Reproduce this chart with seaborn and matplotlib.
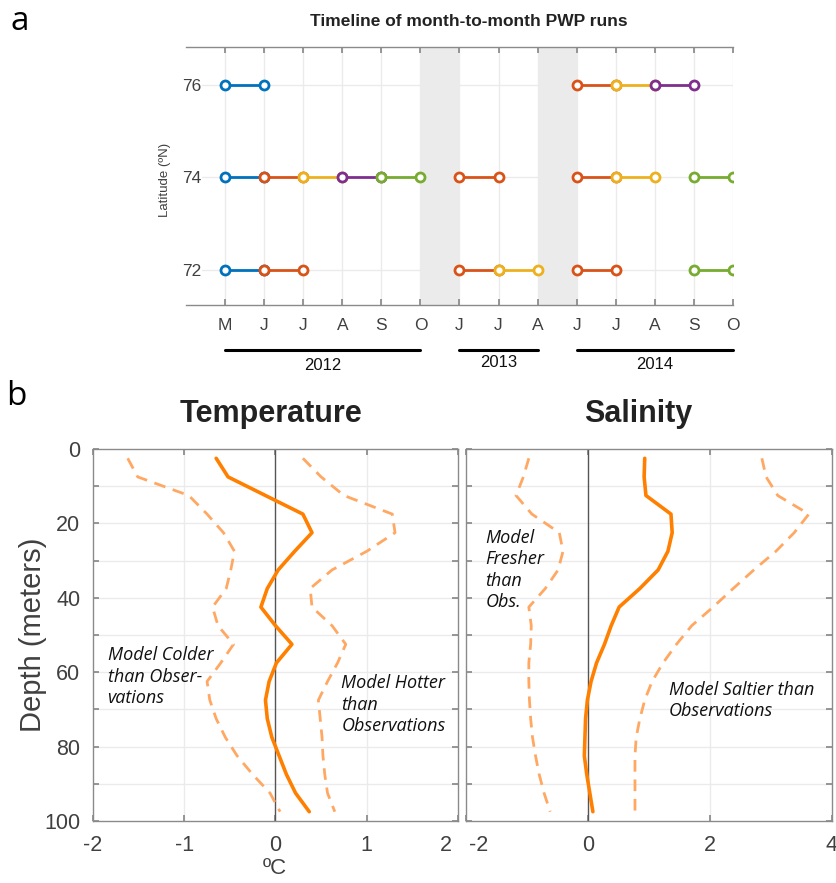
import numpy as np
import pandas as pd
import matplotlib
matplotlib.use("Agg")
import matplotlib.pyplot as plt
import seaborn as sns
from matplotlib.transforms import blended_transform_factory, ScaledTranslation

sns.set_theme(style="white")
plt.rcParams['font.family'] = ['Liberation Sans', 'DejaVu Sans']

# ---------------- panel a data ----------------
month_labels = ['M', 'J', 'J', 'A', 'S', 'O', 'J', 'J', 'A', 'J', 'J', 'A', 'S', 'O']
month_pos = list(range(1, 15))
lat_ticks = [72, 74, 76]
seg_lat = [76, 76, 76, 76,
           74, 74, 74, 74, 74, 74, 74, 74, 74,
           72, 72, 72, 72, 72, 72]
seg_start = [1, 10, 11, 12,
             1, 2, 3, 4, 5, 7, 10, 11, 13,
             1, 2, 7, 8, 10, 13]
seg_end = [2, 11, 12, 13,
           2, 3, 4, 5, 6, 8, 11, 12, 14,
           2, 3, 8, 9, 11, 14]
seg_color = ['blue', 'orange', 'yellow', 'purple',
             'blue', 'orange', 'yellow', 'purple', 'green', 'orange', 'orange', 'yellow', 'green',
             'blue', 'orange', 'orange', 'yellow', 'orange', 'green']
gap_start = [6, 9]
gap_end = [7, 10]
year_labels = ['2012', '2013', '2014']
year_start = [1, 7, 10]
year_end = [6, 9, 14]

# ---------------- panel b data ----------------
depth = [2.5, 7.5, 12.5, 17.5, 22.5, 27.5, 32.5, 37.5, 42.5, 47.5,
         52.5, 57.5, 62.5, 67.5, 72.5, 77.5, 82.5, 87.5, 92.5, 97.5]
temp_mean = [-0.65, -0.52, -0.11, 0.30, 0.40, 0.21, 0.03, -0.09, -0.16, 0.00,
             0.18, 0.01, -0.07, -0.11, -0.09, -0.04, 0.04, 0.12, 0.22, 0.37]
temp_low = [-1.62, -1.51, -0.95, -0.75, -0.57, -0.45, -0.49, -0.54, -0.69, -0.63,
            -0.46, -0.60, -0.75, -0.72, -0.65, -0.55, -0.42, -0.25, -0.06, 0.05]
temp_high = [0.30, 0.50, 0.75, 1.28, 1.31, 1.00, 0.62, 0.38, 0.40, 0.62,
             0.77, 0.68, 0.57, 0.47, 0.49, 0.51, 0.52, 0.54, 0.57, 0.65]
sal_mean = [0.93, 0.92, 0.95, 1.36, 1.38, 1.31, 1.15, 0.85, 0.51, 0.38,
            0.27, 0.14, 0.05, -0.01, -0.04, -0.05, -0.06, -0.02, 0.03, 0.08]
sal_low = [-0.97, -1.06, -1.18, -0.92, -0.47, -0.41, -0.49, -0.70, -0.97, -0.93,
           -0.94, -0.97, -0.97, -0.96, -0.94, -0.91, -0.86, -0.80, -0.72, -0.62]
sal_high = [2.85, 2.92, 3.11, 3.62, 3.38, 3.08, 2.72, 2.38, 2.05, 1.70,
            1.45, 1.23, 1.05, 0.93, 0.85, 0.79, 0.77, 0.77, 0.77, 0.77]

palette = {'blue': '#0072BD', 'orange': '#D95319', 'yellow': '#EDB120',
           'purple': '#7E2F8E', 'green': '#77AC30'}
SOLID = '#FF8000'
DASH = '#FFA863'
TXT = '#404040'
SPINE = '#8a8a8a'
GRID = '#ebebeb'

W, H = 837, 883
fig = plt.figure(figsize=(W / 100, H / 100), dpi=100)


def fx(px):
    return px / W


def fy(py):
    return 1 - py / H


# ---------------- panel a ----------------
axa = fig.add_axes([fx(186), fy(305), fx(733) - fx(186), fy(47) - fy(305)])
axa.set_xlim(0, 14)
axa.set_ylim(71.24, 76.82)
for s, e in zip(gap_start, gap_end):
    axa.axvspan(s, e, color='#ebebeb', zorder=0, lw=0)
for m in month_pos:
    axa.axvline(m, color=GRID, lw=1, zorder=0.5)
for la in lat_ticks:
    axa.axhline(la, xmin=0.03, color=GRID, lw=1, zorder=0.5)

for la, s, e, c in zip(seg_lat, seg_start, seg_end, seg_color):
    seg = pd.DataFrame({'month': [s, e], 'lat': [la, la]})
    sns.lineplot(data=seg, x='month', y='lat', ax=axa, color=palette[c], lw=2,
                 marker='o', markersize=6.5, markerfacecolor='white',
                 markeredgecolor=palette[c], markeredgewidth=2, zorder=3)

axa.set_xticks(month_pos)
axa.set_xticklabels(month_labels)
axa.set_yticks(lat_ticks)
axa.set_yticklabels([str(v) for v in lat_ticks])
axa.tick_params(axis='x', direction='in', top=True, bottom=True, length=4,
                color=SPINE, labelsize=12.5, labelcolor=TXT, pad=9)
axa.tick_params(axis='y', length=0, labelsize=12.5, labelcolor=TXT, pad=-11)
axa.set_xlabel('')
axa.set_ylabel('')
for side in ['left', 'right']:
    axa.spines[side].set_visible(False)
for side in ['top', 'bottom']:
    axa.spines[side].set_color(SPINE)
    axa.spines[side].set_linewidth(1)

trans = blended_transform_factory(axa.transData, axa.transAxes)
year_y = [-0.233, -0.222, -0.229]
for lab, s, e, yy in zip(year_labels, year_start, year_end, year_y):
    axa.plot([s, e], [-0.176, -0.176], transform=trans, color='black', lw=2.2,
             clip_on=False)
    axa.text((s + e) / 2, yy, lab, transform=trans, ha='center', va='center',
             fontsize=12, color='#111111')

fig.text(fx(469), fy(22), 'Timeline of month-to-month PWP runs', ha='center',
         va='center', fontsize=12.5, fontweight='bold', color='#222222')
fig.text(fx(165), fy(180), 'Latitude (\u00baN)', rotation=90, ha='center',
         va='center', fontsize=9.5, color=TXT)
fig.text(fx(20), fy(22), 'a', ha='center', va='center', fontsize=24,
         color='black', family=['Open Sans', 'DejaVu Sans'])
fig.text(fx(16), fy(397), 'b', ha='center', va='center', fontsize=24,
         color='black', family=['Open Sans', 'DejaVu Sans'])

# ---------------- panel b ----------------
axt = fig.add_axes([fx(93), fy(821), fx(458) - fx(93), fy(449) - fy(821)])
axs = fig.add_axes([fx(466), fy(821), fx(832) - fx(466), fy(449) - fy(821)])

prof_t = pd.DataFrame({'depth': depth, 'mean': temp_mean, 'low': temp_low, 'high': temp_high})
prof_s = pd.DataFrame({'depth': depth, 'mean': sal_mean, 'low': sal_low, 'high': sal_high})

for ax, prof, xlim, xt, xgrid in [
        (axt, prof_t, (-2, 2), [-2, -1, 0, 1, 2], [-1, 1]),
        (axs, prof_s, (-2, 4), [-2, 0, 2, 4], [2])]:
    for g in xgrid:
        ax.axvline(g, color=GRID, lw=1, zorder=0.5)
    for d in range(10, 100, 10):
        ax.axhline(d, color=GRID, lw=1, zorder=0.5)
    ax.axvline(0, color='#555555', lw=1, zorder=1)
    for col in ['low', 'high']:
        sns.lineplot(data=prof, x=col, y='depth', orient='y', sort=False, ax=ax,
                     color=DASH, lw=2, linestyle=(0, (4.2, 2.8)), zorder=2)
    sns.lineplot(data=prof, x='mean', y='depth', orient='y', sort=False, ax=ax,
                 color=SOLID, lw=2.6, zorder=3)
    ax.set_xlim(*xlim)
    ax.set_ylim(100, 0)
    ax.set_xticks(xt)
    ax.set_xticklabels([f'{v}' for v in xt])
    ax.set_yticks(list(range(0, 101, 10)))
    ax.set_xlabel('')
    ax.set_ylabel('')
    ax.tick_params(direction='in', top=True, bottom=True, left=True, right=True,
                   length=4.5, color=SPINE, labelsize=15.5, labelcolor=TXT)
    ax.tick_params(axis='x', pad=10)
    ax.tick_params(axis='y', pad=9)
    for sp in ax.spines.values():
        sp.set_color(SPINE)
        sp.set_linewidth(1)

axt.set_yticklabels([str(v) if v % 20 == 0 else '' for v in range(0, 101, 10)])
axs.set_yticklabels([''] * 11)

# nudge the adjoining edge labels apart, as in the original
lab_t = axt.get_xticklabels()[-1]
lab_t.set_transform(lab_t.get_transform() + ScaledTranslation(-0.12, 0, fig.dpi_scale_trans))
lab_s = axs.get_xticklabels()[0]
lab_s.set_transform(lab_s.get_transform() + ScaledTranslation(0.13, 0, fig.dpi_scale_trans))

fig.text(fx(271), fy(414), 'Temperature', ha='center', va='center',
         fontsize=22, fontweight='bold', color='#222222')
fig.text(fx(638), fy(414), 'Salinity', ha='center', va='center',
         fontsize=22, fontweight='bold', color='#222222')
fig.text(fx(33), fy(635), 'Depth (meters)', rotation=90, ha='center', va='center',
         fontsize=21, color=TXT)
fig.text(fx(275), fy(868), '\u00baC', ha='center', va='center', fontsize=16, color=TXT)

ann = dict(fontsize=13, style='italic', color='#111111', va='top', ha='left',
           linespacing=1.25, family=['Open Sans', 'DejaVu Sans'])
axt.text(-1.84, 53.0, 'Model Colder\nthan Obser-\nvations', **ann)
axt.text(0.72, 60.5, 'Model Hotter\nthan\nObservations', **ann)
axs.text(-1.68, 21.5, 'Model\nFresher\nthan\nObs.', **ann)
axs.text(1.33, 62.3, 'Model Saltier than\nObservations', **ann)

fig.savefig('out.png', dpi=100)
